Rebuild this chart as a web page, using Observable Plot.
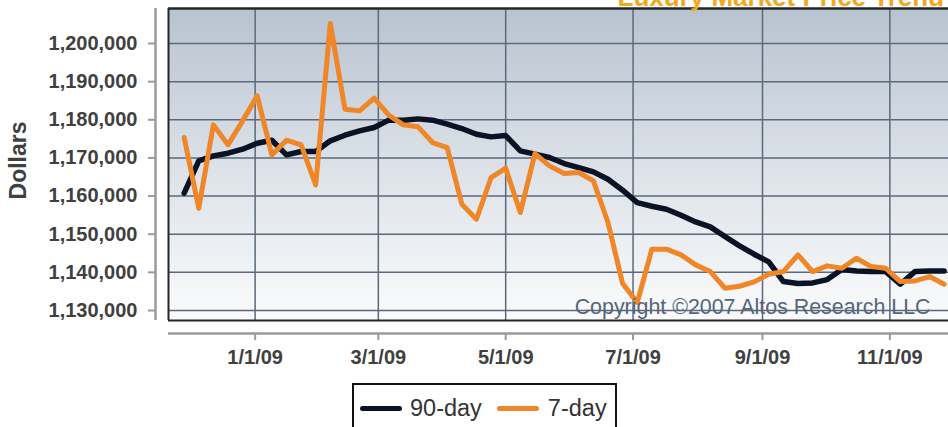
<!DOCTYPE html>
<html>
<head>
<meta charset="utf-8">
<script src="https://cdn.jsdelivr.net/npm/d3@7"></script>
<script src="https://cdn.jsdelivr.net/npm/@observablehq/plot@0.6"></script>
<style>
html, body { margin: 0; padding: 0; background: #fff; }
#wrap { position: relative; width: 948px; height: 427px; overflow: hidden; font-family: "Liberation Sans", Arial, sans-serif; }
#wrap svg { display: block; }
#legend { position: absolute; left: 352px; top: 383px; width: 261px; height: 80px; border: 2px solid #111; background: #fff; box-sizing: content-box; }
#legend .row { display: flex; align-items: center; height: 30px; margin-top: 8px; padding-left: 6px; }
#legend .sw { display: inline-block; width: 42px; height: 5px; border-radius: 3px; }
#legend .lb { font-size: 23.5px; color: #333; line-height: 30px; }
</style>
</head>
<body>
<div id="wrap"></div>
<script>
// ---- data ----
const weeks = [
  "2008-11-28","2008-12-05","2008-12-12","2008-12-19","2008-12-26",
  "2009-01-02","2009-01-09","2009-01-16","2009-01-23","2009-01-30",
  "2009-02-06","2009-02-13","2009-02-20","2009-02-27",
  "2009-03-06","2009-03-13","2009-03-20","2009-03-27",
  "2009-04-03","2009-04-10","2009-04-17","2009-04-24",
  "2009-05-01","2009-05-08","2009-05-15","2009-05-22","2009-05-29",
  "2009-06-05","2009-06-12","2009-06-19","2009-06-26",
  "2009-07-03","2009-07-10","2009-07-17","2009-07-24","2009-07-31",
  "2009-08-07","2009-08-14","2009-08-21","2009-08-28",
  "2009-09-04","2009-09-11","2009-09-18","2009-09-25",
  "2009-10-02","2009-10-09","2009-10-16","2009-10-23","2009-10-30",
  "2009-11-06","2009-11-13","2009-11-20","2009-11-27"
];
const day90 = [
  1160750, 1169230, 1170540, 1171240, 1172290, 1173860, 1174650, 1170800, 1171680, 1171680,
  1174480, 1175960, 1177100, 1177970, 1179900, 1179900, 1180240, 1179900, 1178850, 1177710,
  1176220, 1175520, 1175870, 1171850, 1170980, 1170100, 1168530, 1167480, 1166350, 1164420,
  1161540, 1158300, 1157340, 1156560, 1154980, 1153230, 1151920, 1149390, 1146940, 1144760,
  1142740, 1137590, 1137060, 1137240, 1138110, 1140730, 1140380, 1140210, 1140210, 1136890,
  1140210, 1140380, 1140380
];
const day7 = [
  1175350, 1156820, 1178670, 1173430, 1179720, 1186280, 1170800, 1174650, 1173430, 1162940,
  1205240, 1182780, 1182340, 1185660, 1181210, 1178670, 1178150, 1174040, 1172730, 1157870,
  1153930, 1164860, 1167310, 1155680, 1171150, 1167920, 1165910, 1166170, 1163990, 1153060,
  1137060, 1132080, 1146070, 1146070, 1144580, 1141960, 1140210, 1135840, 1136360, 1137500,
  1139510, 1140210, 1144580, 1140210, 1141700, 1141080, 1143710, 1141520, 1141080, 1137590,
  1137760, 1138900, 1136890
];
const seriesNames = ["90-day", "7-day"];
const seriesColors = ["#0a1326", "#ef8628"];
const yTicks = [1130000, 1140000, 1150000, 1160000, 1170000, 1180000, 1190000, 1200000];
const xTicks = ["2009-01-01", "2009-03-01", "2009-05-01", "2009-07-01", "2009-09-01", "2009-11-01"];
const yDomain = [1127378, 1209176];
const xDomain = ["2008-11-20T12:00Z", "2009-11-29T02:00Z"];
const titleText = "Luxury Market Price Trend";
const yLabel = "Dollars";
const copyright = "Copyright \u00a92007 Altos Research LLC";

// ---- build ----
const rows = weeks.map((w, i) => ({date: new Date(w), v90: day90[i], v7: day7[i]}));
const xT = xTicks.map(d => new Date(d));
const xD = xDomain.map(d => new Date(d));

const gridColor = "#5b6a7b";
const axisGray = "#9a9a9a";
const frameColor = "#262626";

const svg = Plot.plot({
  width: 948,
  height: 380,
  marginLeft: 168,
  marginRight: 0,
  marginTop: 8,
  marginBottom: 60,
  style: {fontFamily: "Liberation Sans, Arial, sans-serif", fontSize: "20px", fontWeight: "bold", color: "#404040", background: "transparent"},
  x: {type: "utc", domain: xD},
  y: {domain: yDomain},
  marks: [
    Plot.frame({fill: "url(#bgGrad)", stroke: "none"}),
    Plot.ruleY(yTicks, {stroke: gridColor, strokeWidth: 1.5}),
    Plot.ruleX(xT, {stroke: gridColor, strokeWidth: 1.5}),
    Plot.ruleY([yDomain[1]], {stroke: frameColor, strokeWidth: 2.5}),
    Plot.ruleY([yDomain[0]], {stroke: frameColor, strokeWidth: 2}),
    Plot.ruleX([xD[0]], {stroke: frameColor, strokeWidth: 2}),
    Plot.ruleX([xD[0]], {dx: -13, stroke: axisGray, strokeWidth: 2.5}),
    Plot.ruleY([yDomain[0]], {dy: 13, stroke: axisGray, strokeWidth: 2.5}),
    Plot.axisY(yTicks, {anchor: "left", tickSize: 7, tickPadding: 11, dx: -13, stroke: axisGray, strokeWidth: 2, tickFormat: d3.format(","), label: null, fill: "#404040"}),
    Plot.axisX(xT, {anchor: "bottom", tickSize: 7, tickPadding: 9, dy: 13, stroke: axisGray, strokeWidth: 2, tickFormat: d3.utcFormat("%-m/%-d/%y"), label: null, fill: "#404040"}),
    Plot.line(rows, {x: "date", y: "v90", stroke: seriesColors[0], strokeWidth: 5.5, strokeLinejoin: "round", strokeLinecap: "round"}),
    Plot.line(rows, {x: "date", y: "v7", stroke: seriesColors[1], strokeWidth: 5, strokeLinejoin: "round", strokeLinecap: "round"}),
    Plot.text([copyright], {frameAnchor: "bottom-right", dx: -18, dy: -7, lineAnchor: "bottom", textAnchor: "end", fontSize: 21.4, fontWeight: "normal", fill: "#56657a"}),
    Plot.text([yLabel], {frameAnchor: "left", rotate: -90, dx: -150, dy: -4, textAnchor: "middle", lineAnchor: "middle", fontSize: 23, fontWeight: "bold", fill: "#404040"}),
    Plot.text([titleText], {frameAnchor: "top-left", dx: 449, dy: -3, lineAnchor: "bottom", textAnchor: "start", fontSize: 26, fontWeight: "bold", fill: "#f0a820"})
  ]
});

// gradient definition for the plot background
const defs = d3.select(svg).insert("defs", ":first-child");
const grad = defs.append("linearGradient").attr("id", "bgGrad").attr("x1", 0).attr("y1", 0).attr("x2", 0).attr("y2", 1);
grad.append("stop").attr("offset", "0%").attr("stop-color", "#b8c3d0");
grad.append("stop").attr("offset", "55%").attr("stop-color", "#dfe4ea");
grad.append("stop").attr("offset", "100%").attr("stop-color", "#fafbfc");

const wrap = document.getElementById("wrap");
wrap.appendChild(svg);

// legend
const legend = document.createElement("div");
legend.id = "legend";
const row = document.createElement("div");
row.className = "row";
seriesNames.forEach((name, i) => {
  const sw = document.createElement("span");
  sw.className = "sw";
  sw.style.background = seriesColors[i];
  sw.style.marginRight = i === 0 ? "8px" : "9px";
  const lb = document.createElement("span");
  lb.className = "lb";
  lb.textContent = name;
  if (i === 0) lb.style.marginRight = "15px";
  row.appendChild(sw);
  row.appendChild(lb);
});
legend.appendChild(row);
wrap.appendChild(legend);
</script>
</body>
</html>
